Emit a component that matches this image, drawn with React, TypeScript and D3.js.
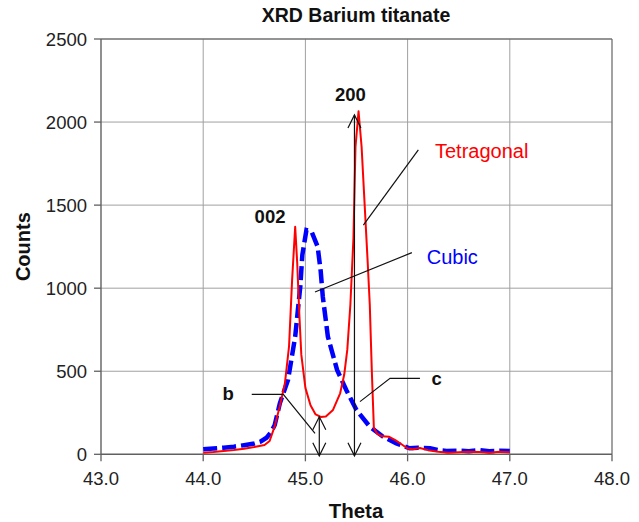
import React from "react";
import * as d3 from "d3";

const W = 639;
const H = 522;

const title = "XRD Barium titanate";
const xLabel = "Theta";
const yLabel = "Counts";
const xTicks = [43, 44, 45, 46, 47, 48];
const yTicks = [0, 500, 1000, 1500, 2000, 2500];

// Tetragonal (red)
const tetraTheta = [44.0, 44.1, 44.2, 44.3, 44.4, 44.5, 44.6, 44.65, 44.7, 44.75, 44.8, 44.84, 44.87, 44.9, 44.92, 44.94, 44.96, 45.0, 45.05, 45.1, 45.15, 45.2, 45.27, 45.34, 45.38, 45.41, 45.44, 45.47, 45.49, 45.52, 45.55, 45.58, 45.61, 45.63, 45.65, 45.67, 45.7, 45.75, 45.82, 45.88, 45.93, 46.0, 46.05, 46.12, 46.2, 46.3, 46.4, 46.5, 46.6, 46.7, 46.8, 46.9, 47.0];
const tetraCounts = [10, 14, 20, 26, 34, 44, 56, 80, 170, 290, 430, 650, 1050, 1370, 1150, 850, 600, 400, 295, 240, 225, 228, 267, 367, 480, 630, 900, 1300, 1850, 2065, 1850, 1500, 1150, 900, 500, 160, 125, 108, 105, 85, 65, 35, 30, 38, 25, 15, 10, 12, 15, 14, 10, 15, 12];

// Cubic (blue dashed)
const cubicTheta = [44.0, 44.1, 44.2, 44.3, 44.4, 44.5, 44.56, 44.62, 44.66, 44.7, 44.75, 44.83, 44.9, 44.95, 44.97, 45.01, 45.06, 45.12, 45.15, 45.17, 45.22, 45.31, 45.4, 45.5, 45.63, 45.76, 45.89, 46.02, 46.1, 46.22, 46.3, 46.38, 46.5, 46.6, 46.7, 46.8, 46.9, 47.0];
const cubicCounts = [30, 35, 40, 46, 55, 65, 76, 100, 130, 176, 307, 448, 708, 1010, 1200, 1350, 1341, 1250, 1100, 950, 708, 508, 387, 267, 166, 106, 66, 36, 40, 36, 25, 20, 22, 18, 25, 18, 22, 20];

// annotations in data units
const arrow200 = { theta: 45.48, from: 0, to: 2043 };
const arrowB = { theta: 45.136, from: 0, to: 226 };
const label200 = { text: "200", theta: 45.44, counts: 2163 };
const label002 = { text: "002", theta: 44.654, counts: 1429 };
const labelB = { text: "b", theta: 44.245, counts: 367 };
const leaderB = [[44.475, 361], [44.784, 361], [45.094, 126]];
const labelC = { text: "c", theta: 46.285, counts: 457 };
const leaderC = [[46.121, 457], [45.828, 457], [45.534, 317]];
const labelTetra = { text: "Tetragonal", theta: 46.268, counts: 1828 };
const leaderTetra = [[46.105, 1832], [45.567, 1380]];
const labelCubic = { text: "Cubic", theta: 46.187, counts: 1186 };
const leaderCubic = [[46.042, 1214], [45.094, 977]];

const FONT = "'Liberation Sans', Arial, Helvetica, sans-serif";

export default function App() {
  const x = d3.scaleLinear().domain([43, 48]).range([101, 612]);
  const y = d3.scaleLinear().domain([0, 2500]).range([454.3, 39]);

  const line = d3
    .line<[number, number]>()
    .x((d) => x(d[0]))
    .y((d) => y(d[1]));

  const tetraData = tetraTheta.map((t, i) => [t, tetraCounts[i]] as [number, number]);
  const cubicData = cubicTheta.map((t, i) => [t, cubicCounts[i]] as [number, number]);

  const [x0, x1] = x.range();
  const [y0, y1] = y.range();

  const arrowHead = (px: number, py: number, dir: number) => (
    <path
      d={`M${px - 6.5},${py - dir * 13} L${px},${py} L${px + 6.5},${py - dir * 13}`}
      fill="none"
      stroke="#111"
      strokeWidth={1.2}
    />
  );

  const doubleArrow = (a: { theta: number; from: number; to: number }) => {
    const px = x(a.theta);
    const pTop = y(a.to);
    const pBot = y(a.from) + 1.5;
    return (
      <g>
        <line x1={px} x2={px} y1={pTop} y2={pBot} stroke="#111" strokeWidth={1.2} />
        {arrowHead(px, pTop, -1)}
        {arrowHead(px, pBot, 1)}
      </g>
    );
  };

  const leader = (pts: number[][]) => (
    <path
      d={d3.line()(pts.map((p) => [x(p[0]), y(p[1])] as [number, number])) || ""}
      fill="none"
      stroke="#111"
      strokeWidth={1.2}
    />
  );

  return (
    <svg
      width={W}
      height={H}
      style={{ position: "absolute", left: 0, top: 0, background: "#fff" }}
      fontFamily={FONT}
    >
      {/* grid */}
      {yTicks.slice(1, -1).map((t) => (
        <line key={"gy" + t} x1={x0} x2={x1} y1={y(t)} y2={y(t)} stroke="#a0a0a0" strokeWidth={1} />
      ))}
      {xTicks.slice(1, -1).map((t) => (
        <line key={"gx" + t} x1={x(t)} x2={x(t)} y1={y0} y2={y1} stroke="#a0a0a0" strokeWidth={1} />
      ))}
      {/* frame */}
      <line x1={x0} x2={x1} y1={y1} y2={y1} stroke="#707070" strokeWidth={1.3} />
      <line x1={x1} x2={x1} y1={y1} y2={y0} stroke="#707070" strokeWidth={1.3} />
      <line x1={x0} x2={x0} y1={y1} y2={y0} stroke="#606060" strokeWidth={1.4} />
      <line x1={x0} x2={x1} y1={y0} y2={y0} stroke="#606060" strokeWidth={1.4} />
      {/* ticks */}
      {yTicks.map((t) => (
        <g key={"ty" + t}>
          <line x1={x0 - 7} x2={x0} y1={y(t)} y2={y(t)} stroke="#606060" strokeWidth={1.3} />
          <text x={87} y={y(t)} textAnchor="end" dominantBaseline="central" fontSize={18.5} fill="#222">
            {t}
          </text>
        </g>
      ))}
      {xTicks.map((t) => (
        <g key={"tx" + t}>
          <line x1={x(t)} x2={x(t)} y1={y0} y2={y0 + 7} stroke="#606060" strokeWidth={1.3} />
          <text x={x(t)} y={478} textAnchor="middle" dominantBaseline="central" fontSize={18.5} fill="#222">
            {t.toFixed(1)}
          </text>
        </g>
      ))}
      {/* series */}
      <path d={line(cubicData) || ""} fill="none" stroke="#0000ff" strokeWidth={4.5} strokeDasharray="14 5" />
      <path d={line(tetraData) || ""} fill="none" stroke="#ff0000" strokeWidth={2} strokeLinejoin="round" />

      {/* annotations */}
      {doubleArrow(arrow200)}
      {doubleArrow(arrowB)}
      {leader(leaderB)}
      {leader(leaderC)}
      {leader(leaderTetra)}
      {leader(leaderCubic)}
      {[label200, label002, labelB, labelC].map((l) => (
        <text
          key={l.text}
          x={x(l.theta)}
          y={y(l.counts)}
          textAnchor="middle"
          dominantBaseline="central"
          fontSize={18.5}
          fontWeight="bold"
          fill="#111"
        >
          {l.text}
        </text>
      ))}
      <text x={x(labelTetra.theta)} y={y(labelTetra.counts)} dominantBaseline="central" fontSize={20} fill="#ff0000">
        {labelTetra.text}
      </text>
      <text x={x(labelCubic.theta)} y={y(labelCubic.counts)} dominantBaseline="central" fontSize={20} fill="#0000ff">
        {labelCubic.text}
      </text>

      {/* titles */}
      <text x={356} y={15} textAnchor="middle" dominantBaseline="central" fontSize={19.5} fontWeight="bold" fill="#111">
        {title}
      </text>
      <text x={356} y={510} textAnchor="middle" dominantBaseline="central" fontSize={20.5} fontWeight="bold" fill="#111">
        {xLabel}
      </text>
      <text
        transform={`translate(23,${(y0 + y1) / 2}) rotate(-90)`}
        textAnchor="middle"
        dominantBaseline="central"
        fontSize={20}
        fontWeight="bold"
        fill="#111"
      >
        {yLabel}
      </text>
    </svg>
  );
}
